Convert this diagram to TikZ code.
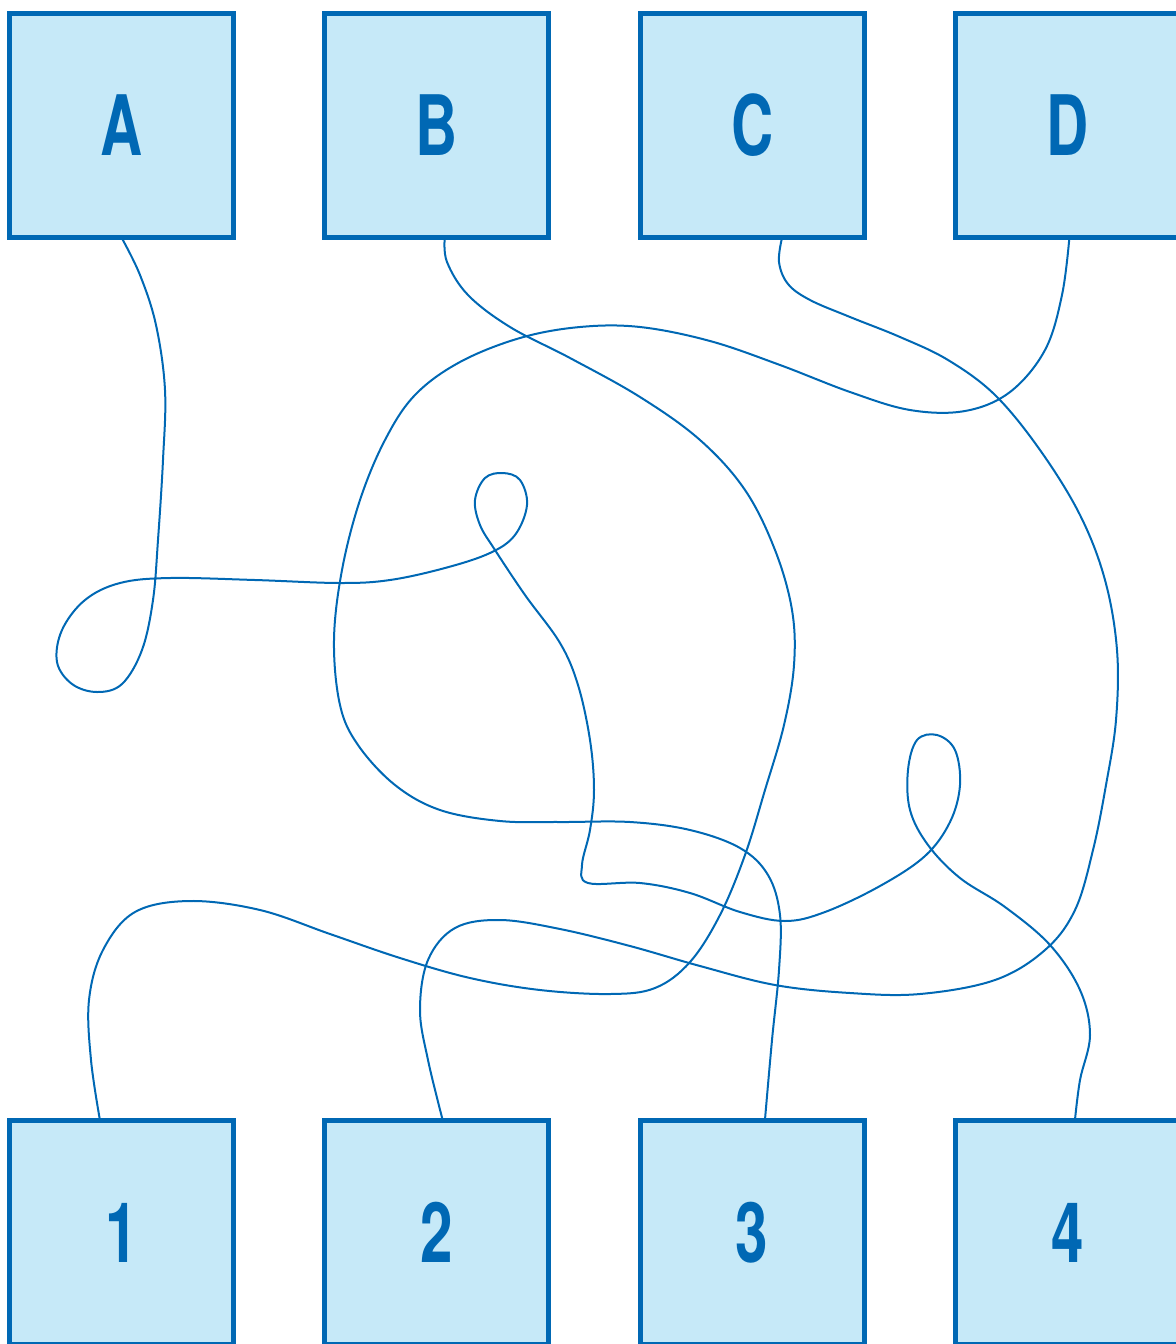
\documentclass[tikz,border=0pt]{standalone}
\usepackage{fontspec}
\newfontfamily\boxfont{TeX Gyre Heros}[FakeStretch=0.7]
\usepackage{tikz}
\usetikzlibrary{positioning}
\definecolor{wireblue}{HTML}{0068B4}
\definecolor{boxfill}{HTML}{C6E9F8}
\tikzset{box node/.style={rectangle,draw=wireblue,fill=boxfill,line width=2.5pt,
minimum size=112pt,inner sep=0pt,outer sep=0pt,text=wireblue,
font=\boxfont\bfseries\fontsize{41.7}{42}\selectfont},
wire/.style={draw=wireblue,line width=1pt}}

\begin{document}
\begin{tikzpicture}[x=0.5pt,y=-0.5pt]
    \useasboundingbox (0,0) rectangle (1176,1344);
    \node[box node] (a) at (121.5,125.5) {A};
    \node[box node] (b) [right=45.65pt of a] {B};
    \node[box node] (c) [right=45.65pt of b] {C};
    \node[box node] (d) [right=45.65pt of c] {D};
    \node[box node] (1) [below=441.5pt of a] {1};
    \node[box node] (2) [right=45.65pt of 1] {2};
    \node[box node] (3) [right=45.65pt of 2] {3};
    \node[box node] (4) [right=45.65pt of 3] {4};

    % A to 4
    \path[wire] plot[smooth,tension=0.6] coordinates {(a.south) (140,275) (156,325)
      (165,390) (163,460) (158,540) (153,600) (142,650) (122,684) (97,692) (72,684)
      (57,662) (62,630) (85,600) (120,583) (170,578) (255,580) (340,583) (390,580)
      (445,568) (490,553) (515,535) (527,505) (520,480) (503,473) (485,478) (475,500)
      (480,525) (495,550) (525,595) (560,643) (578,685) (590,740) (594,790) (590,830)
      (582,865) (588,883) (640,883) (690,893) (740,912) (785,921) (825,912) (880,886)
      (925,856) (950,822) (960,785) (955,750) (937,735) (917,740) (908,770) (910,810)
      (928,845) (960,878) (1005,907) (1050,945) (1080,990) (1090,1035) (1080,1080)
      ([xshift=3.75pt]4.north)};
    % B to 1
    \path[wire] plot[smooth,tension=0.6] coordinates {([xshift=4pt]b.south) (447,262)
      (468,295) (510,327) (570,358) (640,397) (700,440) (745,490) (775,550) (792,610)
      (794,665) (784,725) (765,790) (745,855) (720,915) (690,962) (655,988) (610,994)
      (540,990) (470,978) (400,958) (330,934) (260,910) (190,901) (135,912) (103,950)
      (89,1000) (91,1060) ([xshift=-10.75pt]1.north)};
    % C to 2
    \path[wire] plot[smooth,tension=0.6] coordinates {([xshift=15pt]c.south) (779,262)
      (788,284) (810,300) (850,317) (900,337) (948,360) (995,395) (1040,450) (1080,515)
      (1105,580) (1117,650) (1116,720) (1106,785) (1093,850) (1075,910) (1045,950)
      (995,980) (920,994) (850,993) (775,985) (700,966) (630,946) (560,929) (500,920)
      (455,928) (428,960) (420,1010) (428,1060) ([xshift=3pt]2.north)};
    % D to 3
    \path[wire] plot[smooth,tension=0.6] coordinates {([xshift=1pt]d.south) (1062,295)
      (1045,350) (1010,392) (965,411) (910,410) (850,392) (780,365) (710,341) (640,327)
      (580,327) (520,338) (460,362) (415,395) (385,440) (360,500) (342,570) (334,640)
      (340,705) (358,745) (395,785) (440,810) (500,821) (560,822) (630,822) (690,830)
      (740,848) (768,875) (780,915) (779,970) (772,1040) ([xshift=6.4pt]3.north)};
\end{tikzpicture}
\end{document}
